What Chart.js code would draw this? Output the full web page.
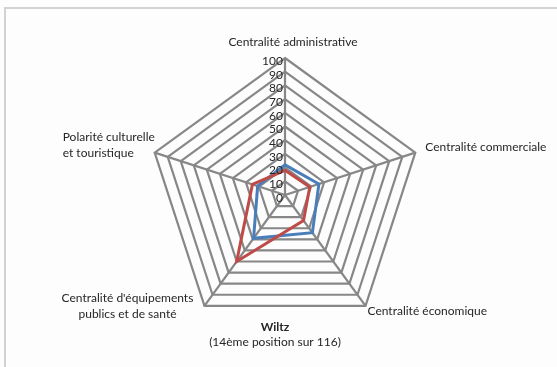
<!DOCTYPE html>
<html>
<head>
<meta charset="utf-8">
<script src="https://cdn.jsdelivr.net/npm/chart.js@4"></script>
<style>
  html, body { margin: 0; padding: 0; background: #fdfdfd; }
  #wrap { position: relative; width: 557px; height: 367px; overflow: hidden; }
  #frame { position: absolute; left: 4px; top: 7px; right: -4px; bottom: -4px;
           border-left: 2px solid #d2d2d2; border-top: 2px solid #d2d2d2; }
  canvas { position: absolute; left: 0; top: 0; }
</style>
</head>
<body>
<div id="wrap">
  <div id="frame"></div>
  <canvas id="radar" width="557" height="367"></canvas>
</div>
<script>
// axes, clockwise from the top
const axisLabels = [
  ['Centralité administrative'],
  ['Centralité commerciale'],
  ['Centralité économique'],
  ["Centralité d'équipements", 'publics et de santé'],
  ['Polarité culturelle', 'et touristique']
]
const blueValues = [22, 26, 34, 39, 21]
const redValues = [18, 19, 23, 60, 25]
const tickValues = [0, 10, 20, 30, 40, 50, 60, 70, 80, 90, 100]
const titleLines = ['Wiltz', '(14ème position sur 116)']

const FONT = 'Lato, "Open Sans", sans-serif'
const TEXT = '#262626'

// where each axis label sits relative to the tip of its axis
const labelPlacement = [
  { dx: 8, dy: -16, align: 'center' },
  { dx: 10, dy: -6, align: 'left' },
  { dx: 2, dy: 5, align: 'left' },
  { dx: -77, dy: -8, align: 'center' },
  { dx: -92, dy: -16, align: 'left' }
]

const textPlugin = {
  id: 'texts',
  afterDraw(chart) {
    const ctx = chart.ctx
    const r = chart.scales.r
    ctx.save()
    ctx.fillStyle = TEXT
    ctx.textBaseline = 'middle'

    // tick labels, to the left of the vertical axis
    ctx.font = '12px ' + FONT
    ctx.textAlign = 'right'
    tickValues.forEach(v => {
      const p = r.getPointPositionForValue(0, v)
      ctx.fillText(String(v), r.xCenter - 2, p.y + 3)
    })

    // axis labels
    ctx.font = '12px ' + FONT
    axisLabels.forEach((lines, i) => {
      const tip = r.getPointPositionForValue(i, 100)
      const pl = labelPlacement[i]
      ctx.textAlign = pl.align
      lines.forEach((line, k) => {
        ctx.fillText(line, tip.x + pl.dx, tip.y + pl.dy + k * 16)
      })
    })

    // title under the chart
    ctx.textAlign = 'center'
    ctx.font = 'bold 12px ' + FONT
    ctx.fillText(titleLines[0], 275, 327)
    ctx.font = '12px ' + FONT
    ctx.fillText(titleLines[1], 275, 342)
    ctx.restore()
  }
}

new Chart(document.getElementById('radar'), {
  type: 'radar',
  data: {
    labels: axisLabels.map(l => l.join(' ')),
    datasets: [
      {
        label: 'Wiltz',
        data: blueValues,
        borderColor: '#4a7ebb',
        borderWidth: 3,
        fill: false,
        pointRadius: 0,
        order: 2
      },
      {
        label: 'Moyenne',
        data: redValues,
        borderColor: '#be4b48',
        borderWidth: 3,
        fill: false,
        pointRadius: 0,
        order: 1
      }
    ]
  },
  options: {
    responsive: false,
    animation: false,
    elements: { line: { tension: 0 } },
    layout: { padding: { left: 148, right: 135, top: 58, bottom: 35 } },
    plugins: {
      legend: { display: false },
      tooltip: { enabled: false }
    },
    scales: {
      r: {
        min: 0,
        max: 100,
        ticks: { stepSize: 10, display: false },
        pointLabels: { display: false },
        grid: { color: '#878787', lineWidth: 2.2 },
        angleLines: { color: '#878787', lineWidth: 2.2 }
      }
    }
  },
  plugins: [textPlugin]
})
</script>
</body>
</html>
